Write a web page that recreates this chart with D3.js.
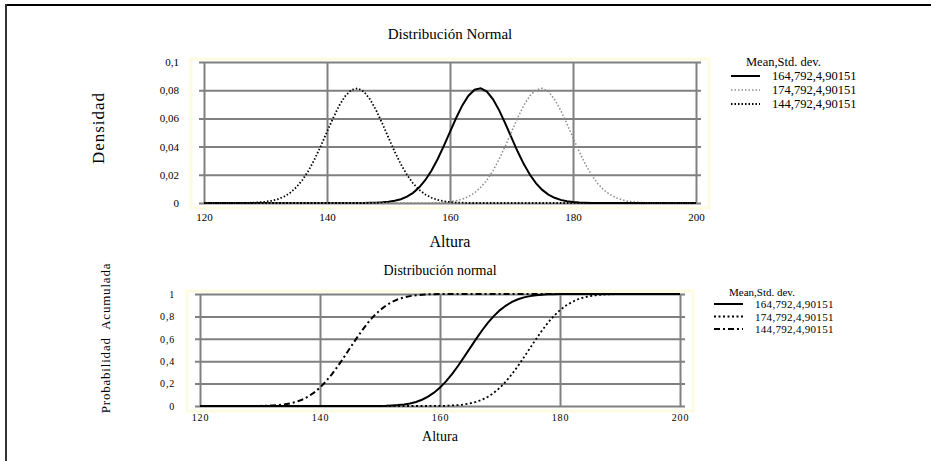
<!DOCTYPE html>
<html>
<head>
<meta charset="utf-8">
<script src="https://cdn.jsdelivr.net/npm/d3@7"></script>
<style>
  body { margin: 0; background: #fff; }
  svg text { font-family: "Liberation Serif", "Times New Roman", serif; fill: #000; }
</style>
</head>
<body>
<div id="chart"></div>
<script>
const altura = [120,121,122,123,124,125,126,127,128,129,130,131,132,133,134,135,136,137,138,139,
  140,141,142,143,144,145,146,147,148,149,150,151,152,153,154,155,156,157,158,159,
  160,161,162,163,164,165,166,167,168,169,170,171,172,173,174,175,176,177,178,179,
  180,181,182,183,184,185,186,187,188,189,190,191,192,193,194,195,196,197,198,199,200];

const seriesNames = ["164,792,4,90151", "174,792,4,90151", "144,792,4,90151"];

// densidad
const dens164 = [0,0,0,0,0,0,0,0,0,0,0,0,0,0,0,0,0,0,0,0,
  0,0,0,0,0,0,0,0.0001,0.0002,0.0005,0.0009,0.0016,0.0027,0.0045,0.0072,0.0111,0.0163,0.0230,0.0312,0.0405,
  0.0505,0.0603,0.0692,0.0761,0.0803,0.0813,0.0790,0.0735,0.0657,0.0563,0.0463,0.0365,0.0276,0.0200,0.0139,0.0093,0.0060,0.0037,0.0022,0.0012,
  0.0007,0.0003,0.0002,0,0,0,0,0,0,0,0,0,0,0,0,0,0,0,0,0,0];
const dens174 = [0,0,0,0,0,0,0,0,0,0,0,0,0,0,0,0,0,0,0,0,
  0,0,0,0,0,0,0,0,0,0,0,0,0,0,0,0,0,0.0001,0.0002,0.0005,
  0.0009,0.0016,0.0027,0.0045,0.0072,0.0111,0.0163,0.0230,0.0312,0.0405,0.0505,0.0603,0.0692,0.0761,0.0803,0.0813,0.0790,0.0735,0.0657,0.0563,
  0.0463,0.0365,0.0276,0.0200,0.0139,0.0093,0.0060,0.0037,0.0022,0.0012,0.0007,0.0003,0.0002,0,0,0,0,0,0,0,0];
const dens144 = [0,0,0,0,0,0,0,0.0001,0.0002,0.0005,0.0009,0.0016,0.0027,0.0045,0.0072,0.0111,0.0163,0.0230,0.0312,0.0405,
  0.0505,0.0603,0.0692,0.0761,0.0803,0.0813,0.0790,0.0735,0.0657,0.0563,0.0463,0.0365,0.0276,0.0200,0.0139,0.0093,0.0060,0.0037,0.0022,0.0012,
  0.0007,0.0003,0.0002,0,0,0,0,0,0,0,0,0,0,0,0,0,0,0,0,0,
  0,0,0,0,0,0,0,0,0,0,0,0,0,0,0,0,0,0,0,0,0];

// probabilidad acumulada
const acum164 = [0,0,0,0,0,0,0,0,0,0,0,0,0,0,0,0,0,0,0,0,
  0,0,0,0,0,0,0,0,0,0.001,0.001,0.002,0.005,0.008,0.014,0.023,0.036,0.056,0.083,0.119,
  0.164,0.220,0.285,0.357,0.436,0.517,0.597,0.674,0.744,0.805,0.856,0.897,0.929,0.953,0.970,0.981,0.989,0.994,0.997,0.998,
  0.999,1,1,1,1,1,1,1,1,1,1,1,1,1,1,1,1,1,1,1,1];
const acum174 = [0,0,0,0,0,0,0,0,0,0,0,0,0,0,0,0,0,0,0,0,
  0,0,0,0,0,0,0,0,0,0,0,0,0,0,0,0,0,0,0,0.001,
  0.001,0.002,0.005,0.008,0.014,0.023,0.036,0.056,0.083,0.119,0.164,0.220,0.285,0.357,0.436,0.517,0.597,0.674,0.744,0.805,
  0.856,0.897,0.929,0.953,0.970,0.981,0.989,0.994,0.997,0.998,0.999,1,1,1,1,1,1,1,1,1,1];
const acum144 = [0,0,0,0,0,0,0,0,0,0.001,0.001,0.002,0.005,0.008,0.014,0.023,0.036,0.056,0.083,0.119,
  0.164,0.220,0.285,0.357,0.436,0.517,0.597,0.674,0.744,0.805,0.856,0.897,0.929,0.953,0.970,0.981,0.989,0.994,0.997,0.998,
  0.999,1,1,1,1,1,1,1,1,1,1,1,1,1,1,1,1,1,1,1,
  1,1,1,1,1,1,1,1,1,1,1,1,1,1,1,1,1,1,1,1,1];

const xTicks = [120, 140, 160, 180, 200];
const yTicksTop = [0, 0.02, 0.04, 0.06, 0.08, 0.1];
const yTicksBot = [0, 0.2, 0.4, 0.6, 0.8, 1];

const width = 931, height = 461;
const comma = d => String(+d.toFixed(4)).replace(".", ",");

const svg = d3.select("#chart").append("svg")
  .attr("width", width).attr("height", height);

// marco
svg.append("line").attr("x1", 6).attr("x2", width).attr("y1", 5).attr("y2", 5)
  .attr("stroke", "#000").attr("stroke-width", 2);
svg.append("line").attr("x1", 6).attr("x2", 6).attr("y1", 4).attr("y2", height)
  .attr("stroke", "#333").attr("stroke-width", 2);

function drawPanel(o) {
  const x = d3.scaleLinear().domain([120, 200]).range([o.left, o.right]);
  const y = d3.scaleLinear().domain([0, o.yMax]).range([o.bottom, o.top]);
  const g = svg.append("g");

  // borde amarillento del area
  g.append("rect")
    .attr("x", o.left - 13).attr("y", o.top - 3)
    .attr("width", o.right - o.left + 26).attr("height", o.bottom - o.top + 8)
    .attr("fill", "none").attr("stroke", "#fdfbe0").attr("stroke-width", 3);

  // rejilla horizontal + etiquetas Y
  const ya = g.append("g")
    .attr("transform", `translate(${o.left - 5},0)`)
    .call(d3.axisLeft(y).tickValues(o.yTicks).tickFormat(comma)
      .tickSizeInner(-(o.right - o.left + 10)).tickSizeOuter(0).tickPadding(o.yPad));
  ya.select(".domain").remove();
  ya.selectAll(".tick line").attr("stroke", "#808080").attr("stroke-width", 2);
  ya.selectAll(".tick text").attr("font-size", o.tickFont).attr("letter-spacing", o.tickLs)
    .attr("font-family", "Liberation Serif");

  // rejilla vertical + etiquetas X
  const xa = g.append("g")
    .attr("transform", `translate(0,${o.bottom})`)
    .call(d3.axisBottom(x).tickValues(xTicks)
      .tickSizeInner(-(o.bottom - o.top)).tickSizeOuter(0).tickPadding(o.xPad));
  xa.select(".domain").remove();
  xa.selectAll(".tick line").attr("stroke", "#808080").attr("stroke-width", 2);
  xa.selectAll(".tick text").attr("font-size", o.tickFont).attr("letter-spacing", o.tickLs)
    .attr("font-family", "Liberation Serif");

  const line = d3.line().x((d, i) => x(altura[i])).y(d => y(d));
  o.series.forEach(s => {
    g.append("path").datum(s.values)
      .attr("d", line).attr("fill", "none")
      .attr("stroke", s.color).attr("stroke-width", s.w)
      .attr("stroke-dasharray", s.dash);
  });

  g.append("text").attr("x", o.titleX).attr("y", o.titleY)
    .attr("text-anchor", "middle").attr("font-size", o.titleFont).text(o.title);
  g.append("text").attr("x", o.titleX).attr("y", o.xLabY)
    .attr("text-anchor", "middle").attr("font-size", o.xLabFont).text("Altura");
  g.append("text")
    .attr("transform", `translate(${o.yLabX},${o.yLabY}) rotate(-90)`)
    .attr("text-anchor", "middle").attr("font-size", o.yLabFont)
    .attr("letter-spacing", o.yLabLs).attr("xml:space", "preserve").text(o.yLabel);

  // leyenda
  const lg = g.append("g");
  lg.append("text").attr("x", o.leg.x + 15).attr("y", o.leg.y - o.leg.step + 4)
    .attr("font-size", o.leg.font).text("Mean,Std. dev.");
  o.series.forEach((s, i) => {
    const yy = o.leg.y + i * o.leg.step;
    lg.append("line").attr("x1", o.leg.x).attr("x2", o.leg.x + 29)
      .attr("y1", yy).attr("y2", yy)
      .attr("stroke", s.color).attr("stroke-width", s.w).attr("stroke-dasharray", s.dash);
    lg.append("text").attr("x", o.leg.x + 41).attr("y", yy + 4)
      .attr("font-size", o.leg.font).attr("letter-spacing", o.leg.ls).text(seriesNames[i]);
  });
}

drawPanel({
  left: 204, right: 696, top: 62, bottom: 203, yMax: 0.1, yTicks: yTicksTop,
  yPad: 20, xPad: 10, tickFont: 11, tickLs: 0,
  title: "Distribución Normal", titleX: 450, titleY: 39, titleFont: 15,
  xLabY: 247, xLabFont: 16,
  yLabel: "Densidad", yLabX: 104, yLabY: 128, yLabFont: 17, yLabLs: 1,
  leg: { x: 731, y: 76, step: 14, font: 12.5, ls: 0 },
  series: [
    { values: dens164, color: "#000", w: 2, dash: null },
    { values: dens174, color: "#8a8a8a", w: 1.5, dash: "1.5,2" },
    { values: dens144, color: "#000", w: 1.8, dash: "1.5,2" }
  ]
});

drawPanel({
  left: 200, right: 680, top: 294, bottom: 406, yMax: 1, yTicks: yTicksBot,
  yPad: 20, xPad: 8, tickFont: 10, tickLs: 0.8,
  title: "Distribución normal", titleX: 440, titleY: 275, titleFont: 14,
  xLabY: 441, xLabFont: 14,
  yLabel: "Probabilidad  Acumulada", yLabX: 110, yLabY: 338, yLabFont: 13, yLabLs: 0.8,
  leg: { x: 714, y: 304, step: 12.5, font: 11, ls: 0.3 },
  series: [
    { values: acum164, color: "#000", w: 2, dash: null },
    { values: acum174, color: "#000", w: 1.8, dash: "2,2.5" },
    { values: acum144, color: "#000", w: 2, dash: "6,3,2,3" }
  ]
});
</script>
</body>
</html>
